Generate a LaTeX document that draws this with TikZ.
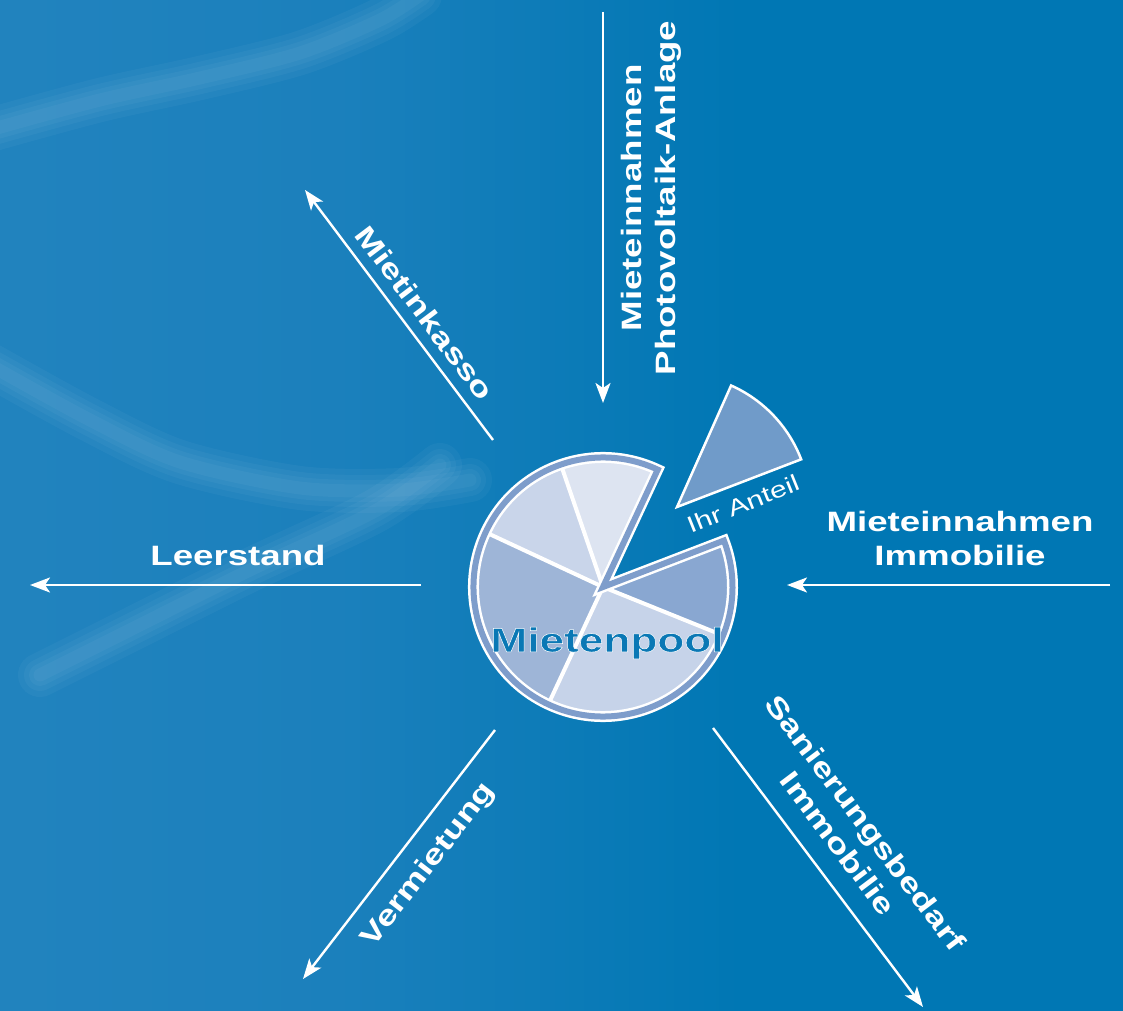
\documentclass[tikz,border=0pt]{standalone}
\usepackage{fontspec}
\usetikzlibrary{arrows.meta}
\newfontfamily\lbl{Liberation Sans}[FakeStretch=1.31]
\newfontfamily\poolfont{Liberation Sans Bold}[FakeStretch=1.3,FakeBold=1.5]
\definecolor{bgL}{HTML}{2C88C2}
\definecolor{bgM}{HTML}{1B80BC}
\definecolor{bgR}{HTML}{0077B4}
\definecolor{band}{HTML}{7E9DCB}
\definecolor{sA}{HTML}{DDE4F1}
\definecolor{sB}{HTML}{C9D5EA}
\definecolor{sC}{HTML}{9EB5D7}
\definecolor{sD}{HTML}{C6D3E9}
\definecolor{sE}{HTML}{89A7D1}
\definecolor{share}{HTML}{709BC9}
\pgfdeclarehorizontalshading{bgshade}{100bp}{color(0bp)=(bgL); color(40bp)=(bgM); color(58bp)=(bgR); color(100bp)=(bgR)}
\tikzset{
  flow/.style={draw=white, line width=2.4pt, -{Stealth[length=20pt,width=15pt,inset=5pt]}},
  lab/.style={text=white, font=\lbl\bfseries\fontsize{28}{34}\selectfont, inner sep=0pt, align=center},
  soft/.style={white, opacity=0.035, line cap=round},
  piece/.style={line join=miter}
}
\newcommand\streakline[1]{%
  \foreach \w in {44,32,22,13} \draw[soft, line width=\w pt] plot[smooth] coordinates {#1};}
\begin{document}
\begin{tikzpicture}[x=1pt,y=1pt]
\useasboundingbox (0,0) rectangle (1123,1010);
% background
\shade[shading=bgshade] (0,0) rectangle (1123,1010);
\begin{scope}
\clip (0,0) rectangle (1123,1010);
\streakline{(-10,880) (100,910) (200,932) (300,957) (380,990) (420,1015)}
\streakline{(-10,645) (90,590) (180,548) (300,522) (400,520) (470,530)}
\streakline{(40,335) (118,374) (250,440) (375,499) (440,545)}
\end{scope}
% pie
\coordinate (C) at (603,423);
\fill[sA] (C) -- ++(65:133) arc[start angle=65,end angle=109,radius=133] -- cycle;
\fill[sB] (C) -- ++(109:133) arc[start angle=109,end angle=155,radius=133] -- cycle;
\fill[sC] (C) -- ++(155:133) arc[start angle=155,end angle=245,radius=133] -- cycle;
\fill[sD] (C) -- ++(245:133) arc[start angle=245,end angle=338,radius=133] -- cycle;
\fill[sE] (C) -- ++(338:133) arc[start angle=338,end angle=381,radius=133] -- cycle;
\foreach \a in {109,155,245,338} \draw[white,line width=4pt] (C) -- ++(\a:127);
\draw[piece,white,line width=11pt] (C) -- ++(65:129.5) arc[start angle=65,end angle=381,radius=129.5] -- cycle;
\draw[piece,band,line width=6pt] (C) -- ++(65:129.5) arc[start angle=65,end angle=381,radius=129.5] -- cycle;
% your share
\coordinate (W) at (677,503);
\draw[piece,white,line width=2.5pt,fill=share] (W) -- ++(21:133) arc[start angle=21,end angle=66,radius=133] -- cycle;
\node[text=white, font=\lbl\fontsize{23}{26}\selectfont, rotate=22, inner sep=0pt] (ia) at (743,506) {Ihr Anteil};
\node[font=\poolfont\fontsize{34}{36}\selectfont, inner sep=0pt] (pool) at (607,367) {\special{pdf:bcolor [0.039 0.471 0.710] [1 1 1]}Mietenpool\special{pdf:ecolor}};
% arrows
\coordinate (t0) at (603,998); \coordinate (t1) at (603,607);
\coordinate (k0) at (493,570); \coordinate (k1) at (305,820);
\coordinate (l0) at (421,425); \coordinate (l1) at (30,425);
\coordinate (r0) at (1110,425); \coordinate (r1) at (787,425);
\coordinate (v0) at (495,280); \coordinate (v1) at (303,31);
\coordinate (s0) at (713,282); \coordinate (s1) at (923,3);
\draw[flow] (t0) -- (t1);
\draw[flow] (k0) -- (k1);
\draw[flow] (l0) -- (l1);
\draw[flow] (r0) -- (r1);
\draw[flow] (v0) -- (v1);
\draw[flow] (s0) -- (s1);
% labels
\node[lab, rotate=90] (pv) at (651,812) {Mieteinnahmen\\Photovoltaik-Anlage};
\node[lab, rotate=-53] (ik) at (425,697) {Mietinkasso};
\node[lab, anchor=base] (ls) at (238,444) {Leerstand};
\node[lab] (mi) at (960,472) {Mieteinnahmen\\Immobilie};
\node[lab, rotate=52.4] (vm) at (429,145) {Vermietung};
\node[lab, rotate=-53] (sb) at (852,177) {Sanierungsbedarf\\Immobilie};
\end{tikzpicture}
\end{document}
